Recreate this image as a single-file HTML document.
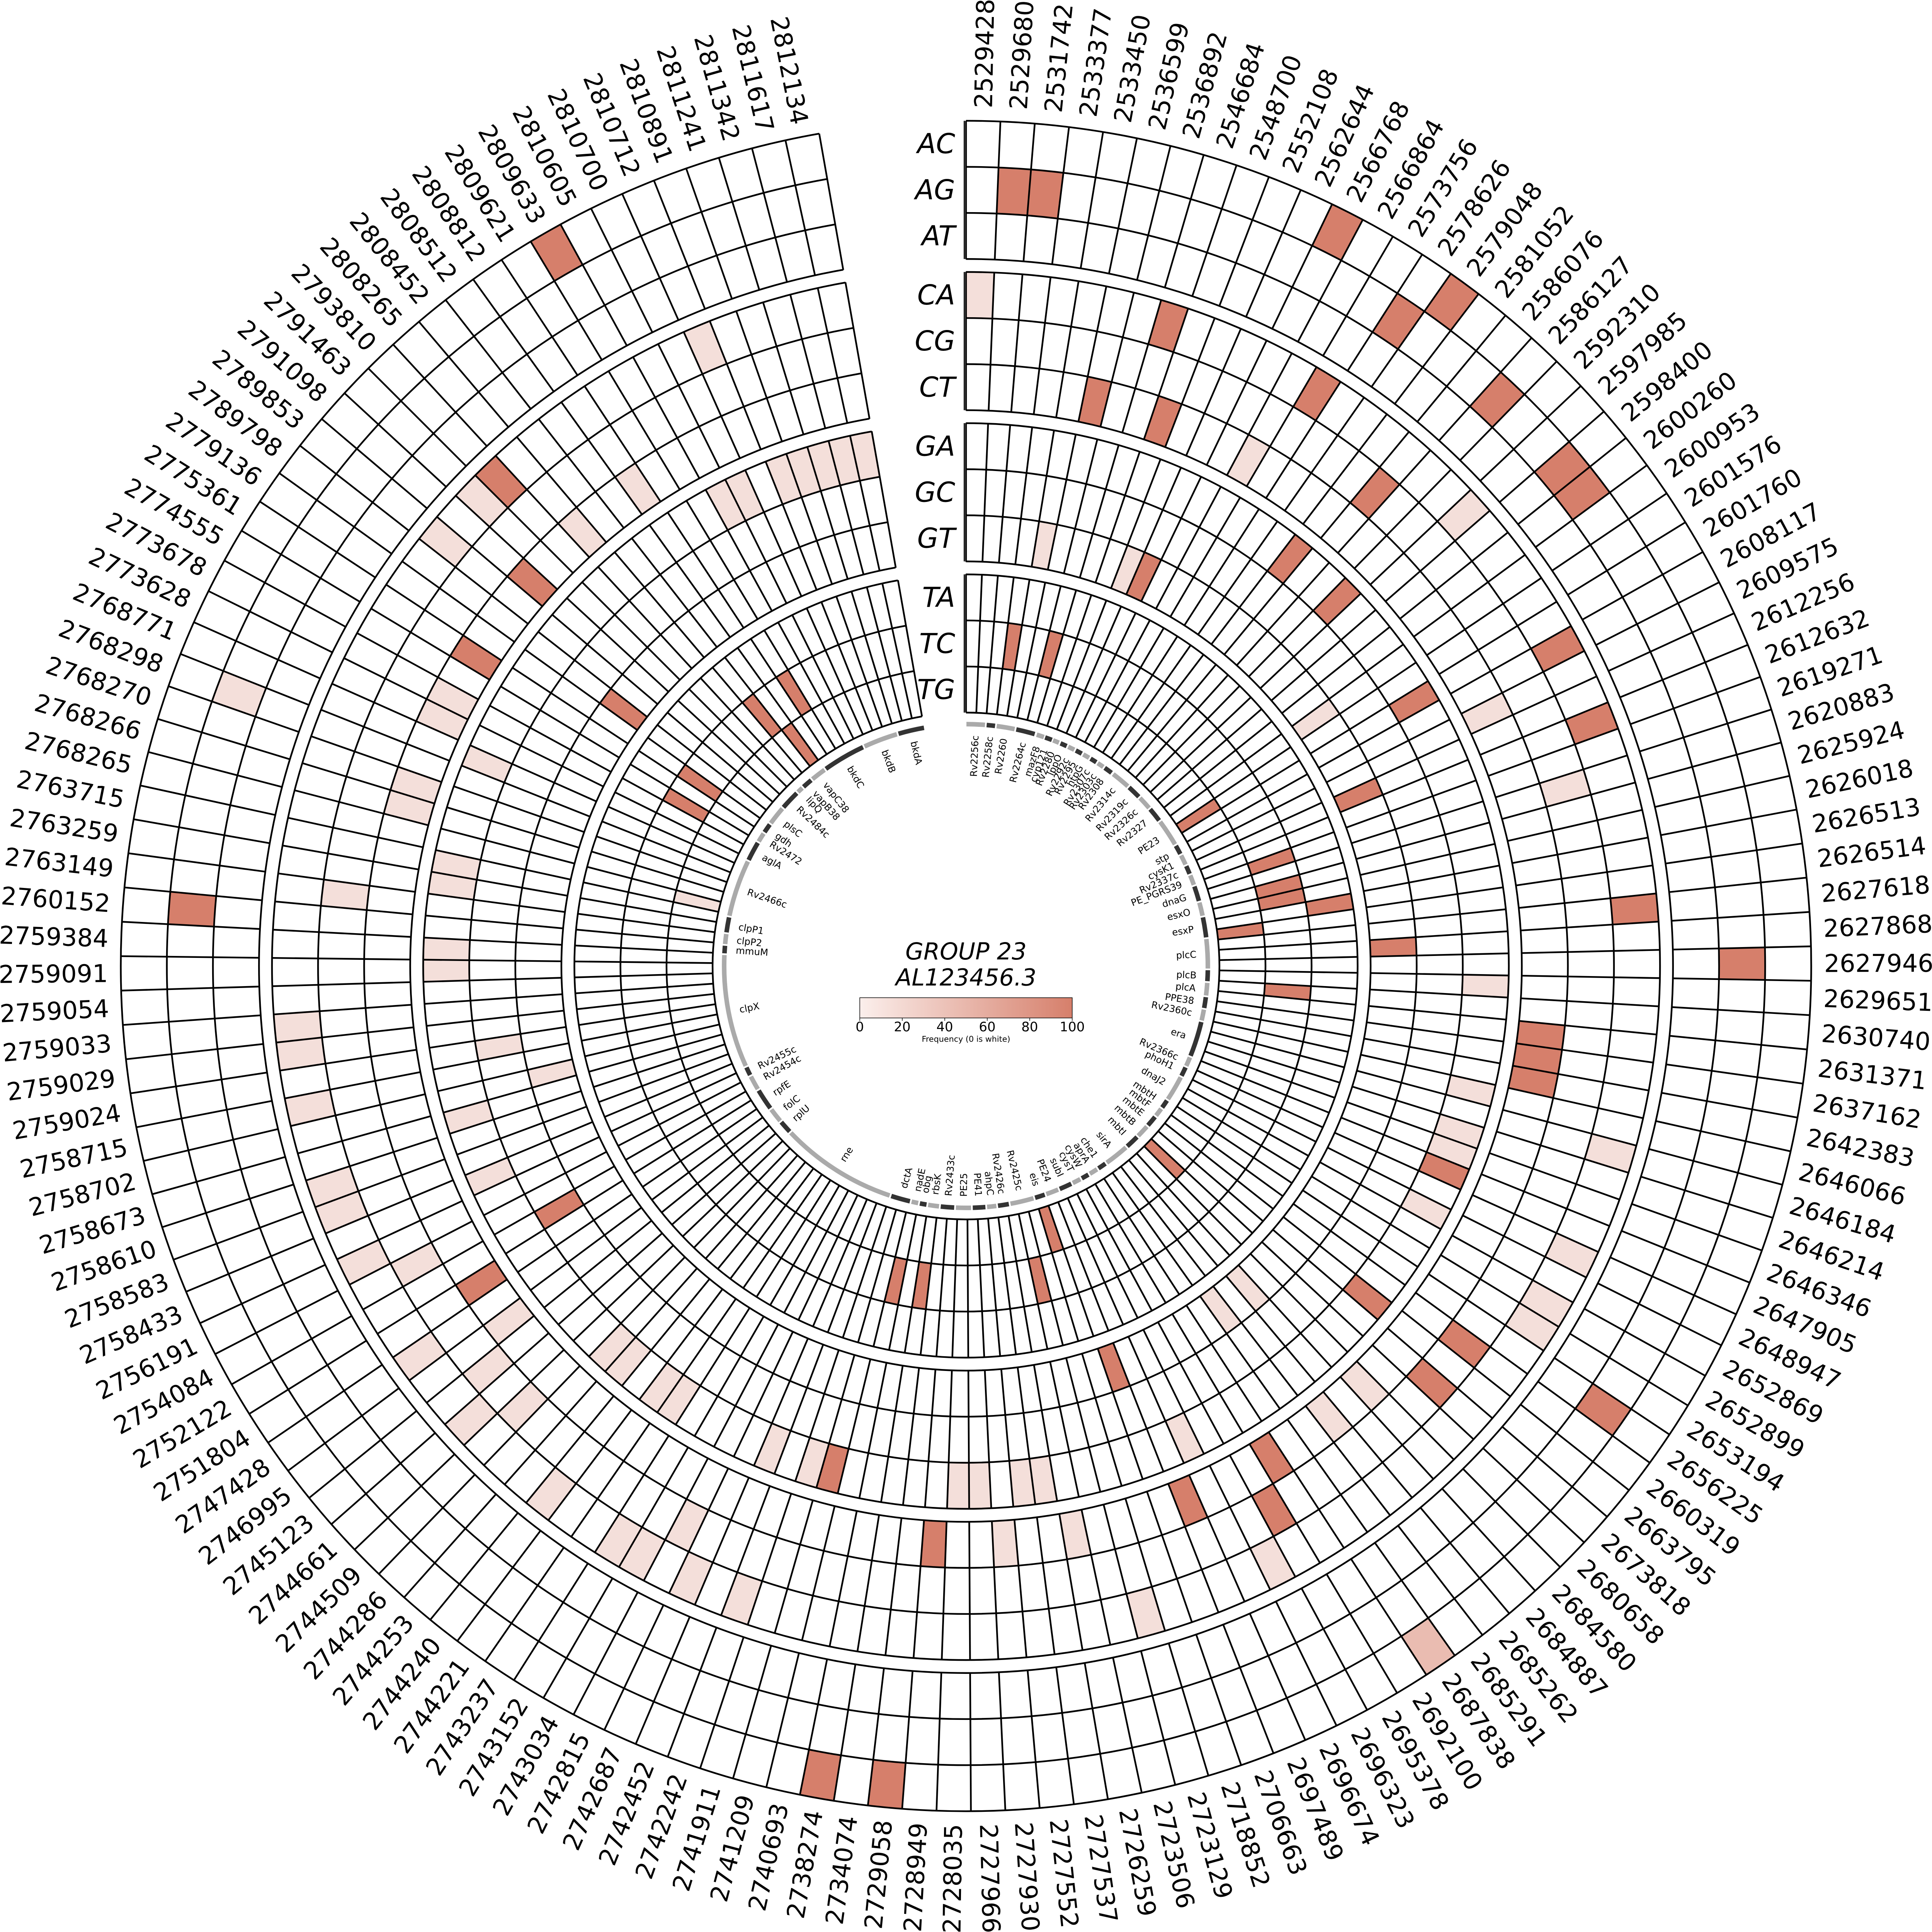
<!DOCTYPE html>
<html><head><meta charset="utf-8">
<style>
html,body{margin:0;padding:0;background:#fff;overflow:hidden;width:100vw;height:100vh;}
svg{display:block;width:100vw;height:100vh;font-family:"DejaVu Sans","Liberation Sans",sans-serif;}
.c{fill:none;transform:rotate(calc(var(--i)*2.333333deg - 90deg));}
.k0{r:2879.3px;stroke-width:161.4px;stroke-dasharray:117.26px 30000px}
.k1{r:2718px;stroke-width:161.4px;stroke-dasharray:110.69px 30000px}
.k3{r:2349.8px;stroke-width:161.4px;stroke-dasharray:95.69px 30000px}
.k4{r:2188.5px;stroke-width:161.4px;stroke-dasharray:89.12px 30000px}
.k5{r:2027.2px;stroke-width:161.4px;stroke-dasharray:82.56px 30000px}
.k6{r:1820.3px;stroke-width:161.4px;stroke-dasharray:74.13px 30000px}
.k7{r:1659px;stroke-width:161.4px;stroke-dasharray:67.56px 30000px}
.k8{r:1497.7px;stroke-width:161.4px;stroke-dasharray:60.99px 30000px}
.k9{r:1290.8px;stroke-width:161.4px;stroke-dasharray:52.57px 30000px}
.k10{r:1129.5px;stroke-width:161.4px;stroke-dasharray:46.00px 30000px}
.k11{r:968.2px;stroke-width:161.4px;stroke-dasharray:39.43px 30000px}
.d{stroke:#d67f6b}.l{stroke:#f4dfda}.m{stroke:#eabcb1}
.q{transform:rotate(calc(var(--i)*2.333333deg));}
.b{fill:none;stroke:#000;stroke-width:6;transform:rotate(-90deg);}
.gs{fill:none;r:847px;stroke-width:16px;stroke-dasharray:calc(var(--w)*14.7829px) 6000px;transform:rotate(calc(var(--s)*1deg - 90deg));}
.gD{stroke:#333}.gL{stroke:#aaa}
.gr{font-size:33px;text-anchor:end;dominant-baseline:central;transform:rotate(calc(var(--a)*1deg - 90deg));}
.gl{font-size:33px;text-anchor:start;dominant-baseline:central;transform:rotate(calc(var(--a)*1deg + 90deg));}
.lr{font-size:86px;dominant-baseline:central;transform:rotate(calc(var(--i)*2.333333deg - 88.833333deg));}
.ll{font-size:86px;dominant-baseline:central;text-anchor:end;transform:rotate(calc(var(--i)*2.333333deg + 91.166667deg));}
.gp{font-size:96px;font-style:italic;text-anchor:end;dominant-baseline:central;}
</style></head><body>
<svg viewBox="0 0 6766 6766" preserveAspectRatio="xMidYMid meet" xmlns="http://www.w3.org/2000/svg">
<defs>
<line id="rl" x1="0" y1="-887.5" x2="0" y2="-2960" stroke="#000" stroke-width="6"/>
<linearGradient id="cb" x1="0" x2="1" y1="0" y2="0"><stop offset="0" stop-color="#fbefec"/><stop offset="1" stop-color="#d67f6b"/></linearGradient>
</defs>
<rect width="6766" height="6766" fill="#fff"/>
<g transform="translate(3383 3383)">
<circle class="c k0 d" style="--i:11"/><circle class="c k0 d" style="--i:15"/><circle class="c k0 m" style="--i:62"/><circle class="c k0 d" style="--i:79"/><circle class="c k0 d" style="--i:81"/><circle class="c k0 d" style="--i:141"/>
<circle class="c k1 d" style="--i:1"/><circle class="c k1 d" style="--i:2"/><circle class="c k1 d" style="--i:14"/><circle class="c k1 d" style="--i:18"/><circle class="c k1 d" style="--i:21"/><circle class="c k1 d" style="--i:22"/><circle class="c k1 d" style="--i:38"/><circle class="c k1 d" style="--i:53"/><circle class="c k1 d" style="--i:117"/><circle class="c k1 l" style="--i:124"/>
<circle class="c k3 l" style="--i:0"/><circle class="c k3 d" style="--i:7"/><circle class="c k3 d" style="--i:13"/><circle class="c k3 l" style="--i:20"/><circle class="c k3 d" style="--i:26"/><circle class="c k3 d" style="--i:29"/><circle class="c k3 d" style="--i:36"/><circle class="c k3 l" style="--i:45"/><circle class="c k3 l" style="--i:49"/><circle class="c k3 l" style="--i:51"/><circle class="c k3 l" style="--i:52"/><circle class="c k3 l" style="--i:65"/><circle class="c k3 l" style="--i:70"/><circle class="c k3 l" style="--i:85"/><circle class="c k3 l" style="--i:87"/><circle class="c k3 l" style="--i:89"/><circle class="c k3 l" style="--i:90"/><circle class="c k3 l" style="--i:93"/><circle class="c k3 l" style="--i:97"/><circle class="c k3 l" style="--i:100"/><circle class="c k3 l" style="--i:104"/><circle class="c k3 l" style="--i:106"/><circle class="c k3 l" style="--i:107"/><circle class="c k3 l" style="--i:110"/><circle class="c k3 l" style="--i:112"/><circle class="c k3 l" style="--i:113"/><circle class="c k3 l" style="--i:132"/><circle class="c k3 l" style="--i:134"/><circle class="c k3 d" style="--i:135"/><circle class="c k3 l" style="--i:144"/>
<circle class="c k4 d" style="--i:17"/><circle class="c k4 l" style="--i:31"/><circle class="c k4 d" style="--i:54"/><circle class="c k4 d" style="--i:56"/><circle class="c k4 d" style="--i:64"/><circle class="c k4 l" style="--i:88"/><circle class="c k4 l" style="--i:96"/><circle class="c k4 l" style="--i:98"/><circle class="c k4 l" style="--i:103"/><circle class="c k4 l" style="--i:118"/>
<circle class="c k5 d" style="--i:5"/><circle class="c k5 d" style="--i:8"/><circle class="c k5 l" style="--i:12"/><circle class="c k5 l" style="--i:27"/><circle class="c k5 d" style="--i:41"/><circle class="c k5 d" style="--i:42"/><circle class="c k5 d" style="--i:43"/><circle class="c k5 l" style="--i:58"/><circle class="c k5 l" style="--i:60"/><circle class="c k5 d" style="--i:63"/><circle class="c k5 d" style="--i:67"/><circle class="c k5 l" style="--i:72"/><circle class="c k5 l" style="--i:75"/><circle class="c k5 d" style="--i:78"/><circle class="c k5 l" style="--i:99"/><circle class="c k5 d" style="--i:101"/><circle class="c k5 l" style="--i:122"/><circle class="c k5 l" style="--i:123"/><circle class="c k5 l" style="--i:126"/><circle class="c k5 l" style="--i:127"/><circle class="c k5 d" style="--i:129"/><circle class="c k5 d" style="--i:133"/><circle class="c k5 l" style="--i:136"/><circle class="c k5 l" style="--i:139"/>
<circle class="c k6 d" style="--i:16"/><circle class="c k6 d" style="--i:19"/><circle class="c k6 d" style="--i:25"/><circle class="c k6 l" style="--i:39"/><circle class="c k6 l" style="--i:44"/><circle class="c k6 l" style="--i:46"/><circle class="c k6 l" style="--i:47"/><circle class="c k6 d" style="--i:48"/><circle class="c k6 l" style="--i:50"/><circle class="c k6 d" style="--i:55"/><circle class="c k6 l" style="--i:66"/><circle class="c k6 l" style="--i:73"/><circle class="c k6 l" style="--i:74"/><circle class="c k6 l" style="--i:76"/><circle class="c k6 l" style="--i:77"/><circle class="c k6 d" style="--i:83"/><circle class="c k6 l" style="--i:84"/><circle class="c k6 l" style="--i:86"/><circle class="c k6 l" style="--i:91"/><circle class="c k6 l" style="--i:92"/><circle class="c k6 l" style="--i:94"/><circle class="c k6 l" style="--i:95"/><circle class="c k6 l" style="--i:105"/><circle class="c k6 l" style="--i:108"/><circle class="c k6 l" style="--i:115"/><circle class="c k6 l" style="--i:116"/><circle class="c k6 l" style="--i:119"/><circle class="c k6 l" style="--i:120"/><circle class="c k6 l" style="--i:125"/><circle class="c k6 l" style="--i:142"/><circle class="c k6 l" style="--i:143"/><circle class="c k6 l" style="--i:145"/><circle class="c k6 l" style="--i:146"/><circle class="c k6 l" style="--i:147"/><circle class="c k6 l" style="--i:148"/><circle class="c k6 l" style="--i:149"/>
<circle class="c k7 d" style="--i:102"/><circle class="c k7 l" style="--i:111"/>
<circle class="c k8 l" style="--i:4"/><circle class="c k8 l" style="--i:9"/><circle class="c k8 d" style="--i:10"/><circle class="c k8 l" style="--i:23"/><circle class="c k8 d" style="--i:28"/><circle class="c k8 d" style="--i:37"/><circle class="c k8 l" style="--i:59"/><circle class="c k8 l" style="--i:61"/><circle class="c k8 d" style="--i:68"/><circle class="c k8 l" style="--i:109"/><circle class="c k8 d" style="--i:131"/>
<circle class="c k9 d" style="--i:34"/>
<circle class="c k10 d" style="--i:3"/><circle class="c k10 d" style="--i:6"/><circle class="c k10 d" style="--i:30"/><circle class="c k10 d" style="--i:32"/><circle class="c k10 d" style="--i:33"/><circle class="c k10 d" style="--i:40"/><circle class="c k10 d" style="--i:71"/><circle class="c k10 d" style="--i:80"/><circle class="c k10 d" style="--i:82"/><circle class="c k10 d" style="--i:128"/><circle class="c k10 d" style="--i:130"/><circle class="c k10 d" style="--i:137"/><circle class="c k10 d" style="--i:140"/>
<circle class="c k11 d" style="--i:24"/><circle class="c k11 d" style="--i:35"/><circle class="c k11 d" style="--i:57"/><circle class="c k11 d" style="--i:69"/><circle class="c k11 l" style="--i:121"/><circle class="c k11 d" style="--i:138"/>
<use href="#rl" class="q" style="--i:0"/><use href="#rl" class="q" style="--i:1"/><use href="#rl" class="q" style="--i:2"/><use href="#rl" class="q" style="--i:3"/><use href="#rl" class="q" style="--i:4"/><use href="#rl" class="q" style="--i:5"/><use href="#rl" class="q" style="--i:6"/><use href="#rl" class="q" style="--i:7"/><use href="#rl" class="q" style="--i:8"/><use href="#rl" class="q" style="--i:9"/>
<use href="#rl" class="q" style="--i:10"/><use href="#rl" class="q" style="--i:11"/><use href="#rl" class="q" style="--i:12"/><use href="#rl" class="q" style="--i:13"/><use href="#rl" class="q" style="--i:14"/><use href="#rl" class="q" style="--i:15"/><use href="#rl" class="q" style="--i:16"/><use href="#rl" class="q" style="--i:17"/><use href="#rl" class="q" style="--i:18"/><use href="#rl" class="q" style="--i:19"/>
<use href="#rl" class="q" style="--i:20"/><use href="#rl" class="q" style="--i:21"/><use href="#rl" class="q" style="--i:22"/><use href="#rl" class="q" style="--i:23"/><use href="#rl" class="q" style="--i:24"/><use href="#rl" class="q" style="--i:25"/><use href="#rl" class="q" style="--i:26"/><use href="#rl" class="q" style="--i:27"/><use href="#rl" class="q" style="--i:28"/><use href="#rl" class="q" style="--i:29"/>
<use href="#rl" class="q" style="--i:30"/><use href="#rl" class="q" style="--i:31"/><use href="#rl" class="q" style="--i:32"/><use href="#rl" class="q" style="--i:33"/><use href="#rl" class="q" style="--i:34"/><use href="#rl" class="q" style="--i:35"/><use href="#rl" class="q" style="--i:36"/><use href="#rl" class="q" style="--i:37"/><use href="#rl" class="q" style="--i:38"/><use href="#rl" class="q" style="--i:39"/>
<use href="#rl" class="q" style="--i:40"/><use href="#rl" class="q" style="--i:41"/><use href="#rl" class="q" style="--i:42"/><use href="#rl" class="q" style="--i:43"/><use href="#rl" class="q" style="--i:44"/><use href="#rl" class="q" style="--i:45"/><use href="#rl" class="q" style="--i:46"/><use href="#rl" class="q" style="--i:47"/><use href="#rl" class="q" style="--i:48"/><use href="#rl" class="q" style="--i:49"/>
<use href="#rl" class="q" style="--i:50"/><use href="#rl" class="q" style="--i:51"/><use href="#rl" class="q" style="--i:52"/><use href="#rl" class="q" style="--i:53"/><use href="#rl" class="q" style="--i:54"/><use href="#rl" class="q" style="--i:55"/><use href="#rl" class="q" style="--i:56"/><use href="#rl" class="q" style="--i:57"/><use href="#rl" class="q" style="--i:58"/><use href="#rl" class="q" style="--i:59"/>
<use href="#rl" class="q" style="--i:60"/><use href="#rl" class="q" style="--i:61"/><use href="#rl" class="q" style="--i:62"/><use href="#rl" class="q" style="--i:63"/><use href="#rl" class="q" style="--i:64"/><use href="#rl" class="q" style="--i:65"/><use href="#rl" class="q" style="--i:66"/><use href="#rl" class="q" style="--i:67"/><use href="#rl" class="q" style="--i:68"/><use href="#rl" class="q" style="--i:69"/>
<use href="#rl" class="q" style="--i:70"/><use href="#rl" class="q" style="--i:71"/><use href="#rl" class="q" style="--i:72"/><use href="#rl" class="q" style="--i:73"/><use href="#rl" class="q" style="--i:74"/><use href="#rl" class="q" style="--i:75"/><use href="#rl" class="q" style="--i:76"/><use href="#rl" class="q" style="--i:77"/><use href="#rl" class="q" style="--i:78"/><use href="#rl" class="q" style="--i:79"/>
<use href="#rl" class="q" style="--i:80"/><use href="#rl" class="q" style="--i:81"/><use href="#rl" class="q" style="--i:82"/><use href="#rl" class="q" style="--i:83"/><use href="#rl" class="q" style="--i:84"/><use href="#rl" class="q" style="--i:85"/><use href="#rl" class="q" style="--i:86"/><use href="#rl" class="q" style="--i:87"/><use href="#rl" class="q" style="--i:88"/><use href="#rl" class="q" style="--i:89"/>
<use href="#rl" class="q" style="--i:90"/><use href="#rl" class="q" style="--i:91"/><use href="#rl" class="q" style="--i:92"/><use href="#rl" class="q" style="--i:93"/><use href="#rl" class="q" style="--i:94"/><use href="#rl" class="q" style="--i:95"/><use href="#rl" class="q" style="--i:96"/><use href="#rl" class="q" style="--i:97"/><use href="#rl" class="q" style="--i:98"/><use href="#rl" class="q" style="--i:99"/>
<use href="#rl" class="q" style="--i:100"/><use href="#rl" class="q" style="--i:101"/><use href="#rl" class="q" style="--i:102"/><use href="#rl" class="q" style="--i:103"/><use href="#rl" class="q" style="--i:104"/><use href="#rl" class="q" style="--i:105"/><use href="#rl" class="q" style="--i:106"/><use href="#rl" class="q" style="--i:107"/><use href="#rl" class="q" style="--i:108"/><use href="#rl" class="q" style="--i:109"/>
<use href="#rl" class="q" style="--i:110"/><use href="#rl" class="q" style="--i:111"/><use href="#rl" class="q" style="--i:112"/><use href="#rl" class="q" style="--i:113"/><use href="#rl" class="q" style="--i:114"/><use href="#rl" class="q" style="--i:115"/><use href="#rl" class="q" style="--i:116"/><use href="#rl" class="q" style="--i:117"/><use href="#rl" class="q" style="--i:118"/><use href="#rl" class="q" style="--i:119"/>
<use href="#rl" class="q" style="--i:120"/><use href="#rl" class="q" style="--i:121"/><use href="#rl" class="q" style="--i:122"/><use href="#rl" class="q" style="--i:123"/><use href="#rl" class="q" style="--i:124"/><use href="#rl" class="q" style="--i:125"/><use href="#rl" class="q" style="--i:126"/><use href="#rl" class="q" style="--i:127"/><use href="#rl" class="q" style="--i:128"/><use href="#rl" class="q" style="--i:129"/>
<use href="#rl" class="q" style="--i:130"/><use href="#rl" class="q" style="--i:131"/><use href="#rl" class="q" style="--i:132"/><use href="#rl" class="q" style="--i:133"/><use href="#rl" class="q" style="--i:134"/><use href="#rl" class="q" style="--i:135"/><use href="#rl" class="q" style="--i:136"/><use href="#rl" class="q" style="--i:137"/><use href="#rl" class="q" style="--i:138"/><use href="#rl" class="q" style="--i:139"/>
<use href="#rl" class="q" style="--i:140"/><use href="#rl" class="q" style="--i:141"/><use href="#rl" class="q" style="--i:142"/><use href="#rl" class="q" style="--i:143"/><use href="#rl" class="q" style="--i:144"/><use href="#rl" class="q" style="--i:145"/><use href="#rl" class="q" style="--i:146"/><use href="#rl" class="q" style="--i:147"/><use href="#rl" class="q" style="--i:148"/><use href="#rl" class="q" style="--i:149"/><use href="#rl" class="q" style="--i:150"/>
<circle r="2453.25" fill="none" stroke="#fff" stroke-width="44"/>
<circle r="1923.75" fill="none" stroke="#fff" stroke-width="44"/>
<circle r="1394.25" fill="none" stroke="#fff" stroke-width="44"/>
<circle class="b" r="2960" pathLength="360" stroke-dasharray="350 10"/><circle class="b" r="2798.7" pathLength="360" stroke-dasharray="350 10"/><circle class="b" r="2637.3" pathLength="360" stroke-dasharray="350 10"/><circle class="b" r="2476" pathLength="360" stroke-dasharray="350 10"/>
<circle class="b" r="2430.5" pathLength="360" stroke-dasharray="350 10"/><circle class="b" r="2269.2" pathLength="360" stroke-dasharray="350 10"/><circle class="b" r="2107.8" pathLength="360" stroke-dasharray="350 10"/><circle class="b" r="1946.5" pathLength="360" stroke-dasharray="350 10"/>
<circle class="b" r="1901" pathLength="360" stroke-dasharray="350 10"/><circle class="b" r="1739.7" pathLength="360" stroke-dasharray="350 10"/><circle class="b" r="1578.3" pathLength="360" stroke-dasharray="350 10"/><circle class="b" r="1417" pathLength="360" stroke-dasharray="350 10"/>
<circle class="b" r="1371.5" pathLength="360" stroke-dasharray="350 10"/><circle class="b" r="1210.2" pathLength="360" stroke-dasharray="350 10"/><circle class="b" r="1048.8" pathLength="360" stroke-dasharray="350 10"/><circle class="b" r="887.5" pathLength="360" stroke-dasharray="350 10"/>
<g stroke="#000" stroke-width="4">
<line x1="-6" y1="-2960" x2="-6" y2="-2476"/><line x1="-6" y1="-2430.5" x2="-6" y2="-1946.5"/><line x1="-6" y1="-1901" x2="-6" y2="-1417"/><line x1="-6" y1="-1371.5" x2="-6" y2="-887.5"/>
</g>
<text class="gp" x="-38" y="-2879.3">AC</text><text class="gp" x="-38" y="-2718">AG</text><text class="gp" x="-38" y="-2556.7">AT</text>
<text class="gp" x="-38" y="-2349.8">CA</text><text class="gp" x="-38" y="-2188.5">CG</text><text class="gp" x="-38" y="-2027.2">CT</text>
<text class="gp" x="-38" y="-1820.3">GA</text><text class="gp" x="-38" y="-1659">GC</text><text class="gp" x="-38" y="-1497.7">GT</text>
<text class="gp" x="-38" y="-1290.8">TA</text><text class="gp" x="-38" y="-1129.5">TC</text><text class="gp" x="-38" y="-968.2">TG</text>
<circle class="gs gL" style="--s:0.1;--w:4.4"/><circle class="gs gD" style="--s:4.9;--w:2.0"/><circle class="gs gL" style="--s:7.3;--w:4.3"/><circle class="gs gD" style="--s:12.0;--w:4.5"/><circle class="gs gL" style="--s:17.0;--w:1.8"/><circle class="gs gD" style="--s:19.1;--w:1.7"/><circle class="gs gL" style="--s:21.1;--w:1.5"/><circle class="gs gD" style="--s:23.0;--w:1.6"/><circle class="gs gL" style="--s:25.0;--w:1.6"/><circle class="gs gD" style="--s:27.0;--w:1.6"/>
<circle class="gs gL" style="--s:29.0;--w:1.6"/><circle class="gs gD" style="--s:31.0;--w:1.6"/><circle class="gs gL" style="--s:33.0;--w:1.6"/><circle class="gs gD" style="--s:35.0;--w:2.0"/><circle class="gs gL" style="--s:37.5;--w:4.5"/><circle class="gs gD" style="--s:42.4;--w:3.2"/><circle class="gs gL" style="--s:46.0;--w:3.2"/><circle class="gs gD" style="--s:49.6;--w:3.4"/><circle class="gs gL" style="--s:53.4;--w:6.4"/><circle class="gs gD" style="--s:60.2;--w:2.2"/>
<circle class="gs gL" style="--s:62.8;--w:2.4"/><circle class="gs gD" style="--s:65.6;--w:2.0"/><circle class="gs gL" style="--s:68.0;--w:2.4"/><circle class="gs gD" style="--s:70.8;--w:3.6"/><circle class="gs gL" style="--s:74.8;--w:3.2"/><circle class="gs gD" style="--s:78.4;--w:4.8"/><circle class="gs gL" style="--s:83.6;--w:7.0"/><circle class="gs gD" style="--s:91.0;--w:2.6"/><circle class="gs gL" style="--s:94.0;--w:3.0"/><circle class="gs gD" style="--s:97.4;--w:2.6"/>
<circle class="gs gL" style="--s:100.4;--w:2.6"/><circle class="gs gD" style="--s:103.4;--w:8.4"/><circle class="gs gL" style="--s:112.2;--w:2.2"/><circle class="gs gD" style="--s:114.8;--w:2.2"/><circle class="gs gL" style="--s:117.4;--w:6.0"/><circle class="gs gD" style="--s:123.8;--w:2.0"/><circle class="gs gL" style="--s:126.2;--w:2.0"/><circle class="gs gD" style="--s:128.6;--w:2.6"/><circle class="gs gL" style="--s:131.6;--w:3.0"/><circle class="gs gD" style="--s:135.0;--w:3.2"/>
<circle class="gs gL" style="--s:138.6;--w:5.8"/><circle class="gs gD" style="--s:144.8;--w:2.0"/><circle class="gs gL" style="--s:147.2;--w:2.0"/><circle class="gs gD" style="--s:149.6;--w:1.8"/><circle class="gs gL" style="--s:151.8;--w:2.0"/><circle class="gs gD" style="--s:154.2;--w:3.0"/><circle class="gs gL" style="--s:157.6;--w:3.0"/><circle class="gs gD" style="--s:161.0;--w:2.4"/><circle class="gs gL" style="--s:163.8;--w:5.6"/><circle class="gs gD" style="--s:169.8;--w:2.6"/>
<circle class="gs gL" style="--s:172.8;--w:2.2"/><circle class="gs gD" style="--s:175.4;--w:3.0"/><circle class="gs gL" style="--s:178.8;--w:3.6"/><circle class="gs gD" style="--s:182.8;--w:3.2"/><circle class="gs gL" style="--s:186.4;--w:2.6"/><circle class="gs gD" style="--s:189.4;--w:1.6"/><circle class="gs gL" style="--s:191.4;--w:1.6"/><circle class="gs gD" style="--s:193.4;--w:4.6"/><circle class="gs gL" style="--s:198.4;--w:28.0"/><circle class="gs gD" style="--s:226.8;--w:3.0"/>
<circle class="gs gL" style="--s:230.2;--w:3.4"/><circle class="gs gD" style="--s:234.0;--w:5.0"/><circle class="gs gL" style="--s:239.4;--w:3.4"/><circle class="gs gD" style="--s:243.2;--w:2.0"/><circle class="gs gL" style="--s:245.6;--w:27.0"/><circle class="gs gD" style="--s:273.0;--w:1.8"/><circle class="gs gL" style="--s:275.2;--w:2.4"/><circle class="gs gD" style="--s:278.0;--w:3.6"/><circle class="gs gL" style="--s:282.0;--w:13.6"/><circle class="gs gD" style="--s:296.0;--w:4.6"/>
<circle class="gs gL" style="--s:301.0;--w:2.2"/><circle class="gs gD" style="--s:303.6;--w:2.2"/><circle class="gs gL" style="--s:306.2;--w:4.4"/><circle class="gs gD" style="--s:311.0;--w:4.6"/><circle class="gs gL" style="--s:316.0;--w:1.4"/><circle class="gs gD" style="--s:317.8;--w:2.4"/><circle class="gs gL" style="--s:320.6;--w:3.6"/><circle class="gs gD" style="--s:324.6;--w:10.2"/><circle class="gs gL" style="--s:335.2;--w:8.2"/><circle class="gs gD" style="--s:343.8;--w:6.2"/>
<text class="gr" x="808" style="--a:2.3">Rv2256c</text><text class="gr" x="808" style="--a:5.9">Rv2258c</text><text class="gr" x="808" style="--a:9.45">Rv2260</text><text class="gr" x="808" style="--a:14.25">Rv2264c</text><text class="gr" x="808" style="--a:17.9">mazF8</text><text class="gr" x="808" style="--a:19.95">cyp121</text><text class="gr" x="808" style="--a:21.85">Rv2280</text><text class="gr" x="808" style="--a:23.8">lppO</text><text class="gr" x="808" style="--a:25.8">Rv2292c</text><text class="gr" x="808" style="--a:27.8">Rv2295</text>
<text class="gr" x="808" style="--a:29.8">htpG</text><text class="gr" x="808" style="--a:31.8">Rv2307c</text><text class="gr" x="808" style="--a:33.8">Rv2303c</text><text class="gr" x="808" style="--a:36">Rv2308</text><text class="gr" x="808" style="--a:39.75">Rv2314c</text><text class="gr" x="808" style="--a:44">Rv2319c</text><text class="gr" x="808" style="--a:47.6">Rv2326c</text><text class="gr" x="808" style="--a:51.3">Rv2327</text><text class="gr" x="808" style="--a:56.6">PE23</text><text class="gr" x="808" style="--a:61.3">stp</text>
<text class="gr" x="808" style="--a:64">cysK1</text><text class="gr" x="808" style="--a:66.6">Rv2337c</text><text class="gr" x="808" style="--a:69.2">PE_PGRS39</text><text class="gr" x="808" style="--a:72.6">dnaG</text><text class="gr" x="808" style="--a:76.4">esxO</text><text class="gr" x="808" style="--a:80.8">esxP</text><text class="gr" x="808" style="--a:87.1">plcC</text><text class="gr" x="808" style="--a:92.3">plcB</text><text class="gr" x="808" style="--a:95.5">plcA</text><text class="gr" x="808" style="--a:98.7">PPE38</text>
<text class="gr" x="808" style="--a:101.7">Rv2360c</text><text class="gr" x="808" style="--a:107.6">era</text><text class="gr" x="808" style="--a:113.3">Rv2366c</text><text class="gr" x="808" style="--a:115.9">phoH1</text><text class="gr" x="808" style="--a:120.4">dnaJ2</text><text class="gr" x="808" style="--a:124.8">mbtH</text><text class="gr" x="808" style="--a:127.2">mbtF</text><text class="gr" x="808" style="--a:129.9">mbtE</text><text class="gr" x="808" style="--a:133.1">mbtB</text><text class="gr" x="808" style="--a:136.6">mbtI</text>
<text class="gr" x="808" style="--a:141.5">sirA</text><text class="gr" x="808" style="--a:145.8">che1</text><text class="gr" x="808" style="--a:148.2">aprA</text><text class="gr" x="808" style="--a:150.5">cysW</text><text class="gr" x="808" style="--a:152.8">cysT</text><text class="gr" x="808" style="--a:155.7">subI</text><text class="gr" x="808" style="--a:159.1">PE24</text><text class="gr" x="808" style="--a:162.2">eis</text><text class="gr" x="808" style="--a:166.6">Rv2425c</text><text class="gr" x="808" style="--a:171.1">Rv2426c</text>
<text class="gr" x="808" style="--a:173.9">ahpC</text><text class="gr" x="808" style="--a:176.9">PE41</text><text class="gl" x="-808" style="--a:180.6">PE25</text><text class="gl" x="-808" style="--a:184.4">Rv2433c</text><text class="gl" x="-808" style="--a:187.7">rbsK</text><text class="gl" x="-808" style="--a:190.2">obg</text><text class="gl" x="-808" style="--a:192.2">nadE</text><text class="gl" x="-808" style="--a:195.7">dctA</text><text class="gl" x="-808" style="--a:212.4">rne</text><text class="gl" x="-808" style="--a:228.3">rplU</text>
<text class="gl" x="-808" style="--a:231.9">folC</text><text class="gl" x="-808" style="--a:236.5">rpfE</text><text class="gl" x="-808" style="--a:241.1">Rv2454c</text><text class="gl" x="-808" style="--a:244.2">Rv2455c</text><text class="gl" x="-808" style="--a:259.1">clpX</text><text class="gl" x="-808" style="--a:273.9">mmuM</text><text class="gl" x="-808" style="--a:276.4">clpP2</text><text class="gl" x="-808" style="--a:279.8">clpP1</text><text class="gl" x="-808" style="--a:288.8">Rv2466c</text><text class="gl" x="-808" style="--a:298.3">aglA</text>
<text class="gl" x="-808" style="--a:302.1">Rv2472</text><text class="gl" x="-808" style="--a:304.7">gdh</text><text class="gl" x="-808" style="--a:308.4">plsC</text><text class="gl" x="-808" style="--a:313.3">Rv2484c</text><text class="gl" x="-808" style="--a:316.7">lipQ</text><text class="gl" x="-808" style="--a:319">vapB38</text><text class="gl" x="-808" style="--a:322.4">vapC38</text><text class="gl" x="-808" style="--a:329.7">bkdC</text><text class="gl" x="-808" style="--a:339.3">bkdB</text><text class="gl" x="-808" style="--a:346.9">bkdA</text>
<text class="lr" x="3005" style="--i:0">2529428</text><text class="lr" x="3005" style="--i:1">2529680</text><text class="lr" x="3005" style="--i:2">2531742</text><text class="lr" x="3005" style="--i:3">2533377</text><text class="lr" x="3005" style="--i:4">2533450</text><text class="lr" x="3005" style="--i:5">2536599</text><text class="lr" x="3005" style="--i:6">2536892</text><text class="lr" x="3005" style="--i:7">2546684</text><text class="lr" x="3005" style="--i:8">2548700</text><text class="lr" x="3005" style="--i:9">2552108</text>
<text class="lr" x="3005" style="--i:10">2562644</text><text class="lr" x="3005" style="--i:11">2566768</text><text class="lr" x="3005" style="--i:12">2566864</text><text class="lr" x="3005" style="--i:13">2573756</text><text class="lr" x="3005" style="--i:14">2578626</text><text class="lr" x="3005" style="--i:15">2579048</text><text class="lr" x="3005" style="--i:16">2581052</text><text class="lr" x="3005" style="--i:17">2586076</text><text class="lr" x="3005" style="--i:18">2586127</text><text class="lr" x="3005" style="--i:19">2592310</text>
<text class="lr" x="3005" style="--i:20">2597985</text><text class="lr" x="3005" style="--i:21">2598400</text><text class="lr" x="3005" style="--i:22">2600260</text><text class="lr" x="3005" style="--i:23">2600953</text><text class="lr" x="3005" style="--i:24">2601576</text><text class="lr" x="3005" style="--i:25">2601760</text><text class="lr" x="3005" style="--i:26">2608117</text><text class="lr" x="3005" style="--i:27">2609575</text><text class="lr" x="3005" style="--i:28">2612256</text><text class="lr" x="3005" style="--i:29">2612632</text>
<text class="lr" x="3005" style="--i:30">2619271</text><text class="lr" x="3005" style="--i:31">2620883</text><text class="lr" x="3005" style="--i:32">2625924</text><text class="lr" x="3005" style="--i:33">2626018</text><text class="lr" x="3005" style="--i:34">2626513</text><text class="lr" x="3005" style="--i:35">2626514</text><text class="lr" x="3005" style="--i:36">2627618</text><text class="lr" x="3005" style="--i:37">2627868</text><text class="lr" x="3005" style="--i:38">2627946</text><text class="lr" x="3005" style="--i:39">2629651</text>
<text class="lr" x="3005" style="--i:40">2630740</text><text class="lr" x="3005" style="--i:41">2631371</text><text class="lr" x="3005" style="--i:42">2637162</text><text class="lr" x="3005" style="--i:43">2642383</text><text class="lr" x="3005" style="--i:44">2646066</text><text class="lr" x="3005" style="--i:45">2646184</text><text class="lr" x="3005" style="--i:46">2646214</text><text class="lr" x="3005" style="--i:47">2646346</text><text class="lr" x="3005" style="--i:48">2647905</text><text class="lr" x="3005" style="--i:49">2648947</text>
<text class="lr" x="3005" style="--i:50">2652869</text><text class="lr" x="3005" style="--i:51">2652899</text><text class="lr" x="3005" style="--i:52">2653194</text><text class="lr" x="3005" style="--i:53">2656225</text><text class="lr" x="3005" style="--i:54">2660319</text><text class="lr" x="3005" style="--i:55">2663795</text><text class="lr" x="3005" style="--i:56">2673818</text><text class="lr" x="3005" style="--i:57">2680658</text><text class="lr" x="3005" style="--i:58">2684580</text><text class="lr" x="3005" style="--i:59">2684887</text>
<text class="lr" x="3005" style="--i:60">2685262</text><text class="lr" x="3005" style="--i:61">2685291</text><text class="lr" x="3005" style="--i:62">2687838</text><text class="lr" x="3005" style="--i:63">2692100</text><text class="lr" x="3005" style="--i:64">2695378</text><text class="lr" x="3005" style="--i:65">2696323</text><text class="lr" x="3005" style="--i:66">2696674</text><text class="lr" x="3005" style="--i:67">2697489</text><text class="lr" x="3005" style="--i:68">2706663</text><text class="lr" x="3005" style="--i:69">2718852</text>
<text class="lr" x="3005" style="--i:70">2723129</text><text class="lr" x="3005" style="--i:71">2723506</text><text class="lr" x="3005" style="--i:72">2726259</text><text class="lr" x="3005" style="--i:73">2727537</text><text class="lr" x="3005" style="--i:74">2727552</text><text class="lr" x="3005" style="--i:75">2727930</text><text class="lr" x="3005" style="--i:76">2727966</text>
<text class="ll" x="-3005" style="--i:77">2728035</text><text class="ll" x="-3005" style="--i:78">2728949</text><text class="ll" x="-3005" style="--i:79">2729058</text>
<text class="ll" x="-3005" style="--i:80">2734074</text><text class="ll" x="-3005" style="--i:81">2738274</text><text class="ll" x="-3005" style="--i:82">2740693</text><text class="ll" x="-3005" style="--i:83">2741209</text><text class="ll" x="-3005" style="--i:84">2741911</text><text class="ll" x="-3005" style="--i:85">2742242</text><text class="ll" x="-3005" style="--i:86">2742452</text><text class="ll" x="-3005" style="--i:87">2742687</text><text class="ll" x="-3005" style="--i:88">2742815</text><text class="ll" x="-3005" style="--i:89">2743034</text>
<text class="ll" x="-3005" style="--i:90">2743152</text><text class="ll" x="-3005" style="--i:91">2743237</text><text class="ll" x="-3005" style="--i:92">2744221</text><text class="ll" x="-3005" style="--i:93">2744240</text><text class="ll" x="-3005" style="--i:94">2744253</text><text class="ll" x="-3005" style="--i:95">2744286</text><text class="ll" x="-3005" style="--i:96">2744509</text><text class="ll" x="-3005" style="--i:97">2744661</text><text class="ll" x="-3005" style="--i:98">2745123</text><text class="ll" x="-3005" style="--i:99">2746995</text>
<text class="ll" x="-3005" style="--i:100">2747428</text><text class="ll" x="-3005" style="--i:101">2751804</text><text class="ll" x="-3005" style="--i:102">2752122</text><text class="ll" x="-3005" style="--i:103">2754084</text><text class="ll" x="-3005" style="--i:104">2756191</text><text class="ll" x="-3005" style="--i:105">2758433</text><text class="ll" x="-3005" style="--i:106">2758583</text><text class="ll" x="-3005" style="--i:107">2758610</text><text class="ll" x="-3005" style="--i:108">2758673</text><text class="ll" x="-3005" style="--i:109">2758702</text>
<text class="ll" x="-3005" style="--i:110">2758715</text><text class="ll" x="-3005" style="--i:111">2759024</text><text class="ll" x="-3005" style="--i:112">2759029</text><text class="ll" x="-3005" style="--i:113">2759033</text><text class="ll" x="-3005" style="--i:114">2759054</text><text class="ll" x="-3005" style="--i:115">2759091</text><text class="ll" x="-3005" style="--i:116">2759384</text><text class="ll" x="-3005" style="--i:117">2760152</text><text class="ll" x="-3005" style="--i:118">2763149</text><text class="ll" x="-3005" style="--i:119">2763259</text>
<text class="ll" x="-3005" style="--i:120">2763715</text><text class="ll" x="-3005" style="--i:121">2768265</text><text class="ll" x="-3005" style="--i:122">2768266</text><text class="ll" x="-3005" style="--i:123">2768270</text><text class="ll" x="-3005" style="--i:124">2768298</text><text class="ll" x="-3005" style="--i:125">2768771</text><text class="ll" x="-3005" style="--i:126">2773628</text><text class="ll" x="-3005" style="--i:127">2773678</text><text class="ll" x="-3005" style="--i:128">2774555</text><text class="ll" x="-3005" style="--i:129">2775361</text>
<text class="ll" x="-3005" style="--i:130">2779136</text><text class="ll" x="-3005" style="--i:131">2789798</text><text class="ll" x="-3005" style="--i:132">2789853</text><text class="ll" x="-3005" style="--i:133">2791098</text><text class="ll" x="-3005" style="--i:134">2791463</text><text class="ll" x="-3005" style="--i:135">2793810</text><text class="ll" x="-3005" style="--i:136">2808265</text><text class="ll" x="-3005" style="--i:137">2808452</text><text class="ll" x="-3005" style="--i:138">2808512</text><text class="ll" x="-3005" style="--i:139">2808812</text>
<text class="ll" x="-3005" style="--i:140">2809621</text><text class="ll" x="-3005" style="--i:141">2809633</text><text class="ll" x="-3005" style="--i:142">2810605</text><text class="ll" x="-3005" style="--i:143">2810700</text><text class="ll" x="-3005" style="--i:144">2810712</text><text class="ll" x="-3005" style="--i:145">2810891</text><text class="ll" x="-3005" style="--i:146">2811241</text><text class="ll" x="-3005" style="--i:147">2811342</text><text class="ll" x="-3005" style="--i:148">2811617</text><text class="ll" x="-3005" style="--i:149">2812134</text>
</g>
<text x="3383" y="3333" font-size="82" font-style="italic" text-anchor="middle" dominant-baseline="central">GROUP 23</text>
<text x="3383" y="3424" font-size="82" font-style="italic" text-anchor="middle" dominant-baseline="central">AL123456.3</text>
<rect x="3011" y="3494" width="744" height="71" fill="url(#cb)" stroke="#000" stroke-width="2"/>
<g stroke="#000" stroke-width="2">
<line x1="3011" y1="3565" x2="3011" y2="3575"/><line x1="3159.8" y1="3565" x2="3159.8" y2="3575"/><line x1="3308.6" y1="3565" x2="3308.6" y2="3575"/><line x1="3457.4" y1="3565" x2="3457.4" y2="3575"/><line x1="3606.2" y1="3565" x2="3606.2" y2="3575"/><line x1="3755" y1="3565" x2="3755" y2="3575"/>
</g>
<g font-size="46" text-anchor="middle">
<text x="3011" y="3612">0</text><text x="3159.8" y="3612">20</text><text x="3308.6" y="3612">40</text><text x="3457.4" y="3612">60</text><text x="3606.2" y="3612">80</text><text x="3755" y="3612">100</text>
</g>
<text x="3383" y="3648" font-size="28" text-anchor="middle">Frequency (0 is white)</text>
</svg>
</body></html>
